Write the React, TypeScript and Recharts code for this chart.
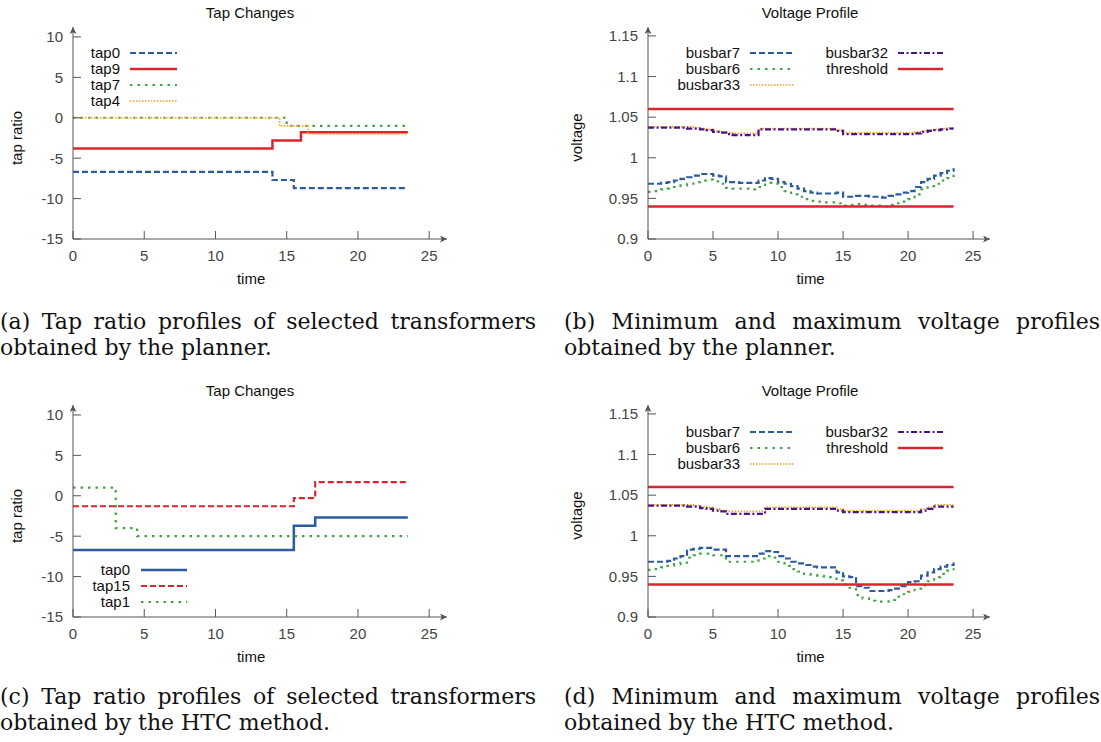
import { LineChart, Line, XAxis, YAxis, Legend, Label } from 'recharts'

const SANS = '"Liberation Sans", Arial, Helvetica, sans-serif'
const SERIF = '"DejaVu Serif", serif'
const AXIS = '#555'

const BLUE = '#2b5c9e'
const RED = '#d7262f'
const GREEN = '#45a145'
const ORANGE = '#f4a11c'
const PURPLE = '#4a1488'

const DASHED = '6 3'
const DOTTED = '2.5 5'
const FINE_DOT = '1.5 1.5'
const DASH_DOT = '6 2.5 2 2.5'

// tap positions, planner (a)
const planTap0Time = [0, 14, 15.5, 23.5]
const planTap0 = [-6.7, -7.7, -8.7, -8.7]
const planTap9Time = [0, 14, 16, 23.5]
const planTap9 = [-3.8, -2.8, -1.8, -1.8]
const planTap7Time = [0, 15, 23.5]
const planTap7 = [0, -1, -1]
const planTap4Time = [0, 14.5, 16.5, 23.5]
const planTap4 = [0, -1, -2, -2]

// tap positions, HTC (c)
const htcTap0Time = [0, 15.5, 17, 23.5]
const htcTap0 = [-6.7, -3.7, -2.7, -2.7]
const htcTap15Time = [0, 15.5, 17, 23.5]
const htcTap15 = [-1.3, -0.3, 1.7, 1.7]
const htcTap1Time = [0, 3, 4.5, 23.5]
const htcTap1 = [1, -4, -5, -5]

// half-hourly voltages
const hours = [
  0, 0.5, 1, 1.5, 2, 2.5, 3, 3.5, 4, 4.5, 5, 5.5, 6, 6.5, 7, 7.5, 8, 8.5, 9, 9.5, 10, 10.5, 11, 11.5,
  12, 12.5, 13, 13.5, 14, 14.5, 15, 15.5, 16, 16.5, 17, 17.5, 18, 18.5, 19, 19.5, 20, 20.5, 21, 21.5,
  22, 22.5, 23, 23.5,
]

const planBusbar7 = [
  0.968, 0.968, 0.969, 0.97, 0.972, 0.974, 0.976, 0.978, 0.98, 0.98,
  0.978, 0.977, 0.97, 0.97, 0.969, 0.969, 0.969, 0.972, 0.975, 0.974,
  0.97, 0.968, 0.965, 0.962, 0.959, 0.957, 0.956, 0.956, 0.956, 0.957,
  0.952, 0.952, 0.953, 0.953, 0.952, 0.952, 0.951, 0.953, 0.955, 0.957,
  0.959, 0.964, 0.97, 0.974, 0.978, 0.981, 0.984, 0.987,
]
const planBusbar6 = [
  0.958, 0.959, 0.961, 0.962, 0.964, 0.966, 0.968, 0.97, 0.972, 0.973,
  0.971, 0.968, 0.963, 0.962, 0.962, 0.962, 0.961, 0.964, 0.969, 0.968,
  0.964, 0.959, 0.955, 0.952, 0.949, 0.947, 0.946, 0.945, 0.945, 0.944,
  0.941, 0.942, 0.943, 0.942, 0.941, 0.941, 0.94, 0.942, 0.944, 0.946,
  0.949, 0.955, 0.961, 0.965, 0.968, 0.972, 0.975, 0.979,
]
const planBusbar33 = [
  1.038, 1.038, 1.038, 1.038, 1.038, 1.038, 1.038, 1.037, 1.036, 1.035,
  1.033, 1.032, 1.031, 1.03, 1.03, 1.03, 1.03, 1.036, 1.036, 1.036,
  1.036, 1.036, 1.036, 1.036, 1.036, 1.036, 1.036, 1.036, 1.036, 1.034,
  1.031, 1.031, 1.031, 1.031, 1.031, 1.031, 1.031, 1.031, 1.031, 1.031,
  1.031, 1.032, 1.033, 1.034, 1.035, 1.036, 1.037, 1.038,
]
const planBusbar32 = [
  1.037, 1.037, 1.037, 1.037, 1.037, 1.037, 1.036, 1.036, 1.035, 1.034,
  1.032, 1.031, 1.029, 1.028, 1.028, 1.028, 1.028, 1.035, 1.035, 1.035,
  1.035, 1.035, 1.035, 1.035, 1.035, 1.035, 1.035, 1.035, 1.035, 1.033,
  1.029, 1.029, 1.029, 1.029, 1.029, 1.029, 1.029, 1.029, 1.029, 1.029,
  1.029, 1.03, 1.032, 1.033, 1.034, 1.035, 1.036, 1.036,
]

const htcBusbar7 = [
  0.968, 0.968, 0.968, 0.969, 0.972, 0.975, 0.983, 0.984, 0.985, 0.985,
  0.983, 0.983, 0.975, 0.975, 0.975, 0.975, 0.975, 0.978, 0.981, 0.98,
  0.975, 0.972, 0.968, 0.966, 0.964, 0.962, 0.961, 0.961, 0.961, 0.955,
  0.95, 0.949, 0.938, 0.936, 0.932, 0.932, 0.932, 0.933, 0.935, 0.938,
  0.943, 0.944, 0.951, 0.955, 0.959, 0.962, 0.964, 0.967,
]
const htcBusbar6 = [
  0.958, 0.959, 0.961, 0.963, 0.965, 0.967, 0.973, 0.976, 0.978, 0.978,
  0.976, 0.976, 0.968, 0.968, 0.968, 0.968, 0.968, 0.972, 0.975, 0.973,
  0.968, 0.963, 0.959, 0.956, 0.953, 0.952, 0.951, 0.95, 0.949, 0.945,
  0.94, 0.936, 0.927, 0.923, 0.92, 0.919, 0.919, 0.921, 0.925, 0.928,
  0.931, 0.935, 0.939, 0.944, 0.949, 0.953, 0.957, 0.96,
]
const htcBusbar33 = [
  1.038, 1.038, 1.038, 1.038, 1.038, 1.038, 1.038, 1.037, 1.036, 1.035,
  1.033, 1.031, 1.03, 1.03, 1.03, 1.03, 1.03, 1.03, 1.035, 1.035,
  1.035, 1.035, 1.035, 1.035, 1.035, 1.035, 1.035, 1.035, 1.035, 1.033,
  1.031, 1.031, 1.031, 1.031, 1.031, 1.031, 1.031, 1.031, 1.031, 1.031,
  1.031, 1.031, 1.033, 1.035, 1.038, 1.038, 1.038, 1.038,
]
const htcBusbar32 = [
  1.037, 1.037, 1.037, 1.037, 1.037, 1.037, 1.036, 1.036, 1.034, 1.033,
  1.031, 1.03, 1.027, 1.027, 1.027, 1.027, 1.027, 1.027, 1.033, 1.033,
  1.033, 1.033, 1.033, 1.033, 1.033, 1.033, 1.033, 1.033, 1.033, 1.031,
  1.029, 1.029, 1.029, 1.029, 1.029, 1.029, 1.029, 1.029, 1.029, 1.029,
  1.029, 1.029, 1.031, 1.033, 1.036, 1.036, 1.036, 1.036,
]

const limitTime = [0, 23.5]
const upperLimit = [1.06, 1.06]
const lowerLimit = [0.94, 0.94]

const timeTicks = [0, 5, 10, 15, 20, 25]
const tapTicks = [-15, -10, -5, 0, 5, 10]
const voltTicks = [0.9, 0.95, 1, 1.05, 1.1, 1.15]

type Pt = { t: number; v: number }
const pts = (times: number[], values: number[]): Pt[] => times.map((t, i) => ({ t, v: values[i] }))

const voltRows = (b7: number[], b6: number[], b33: number[], b32: number[]) =>
  hours.map((t, i) => ({ t, b7: b7[i], b6: b6[i], b33: b33[i], b32: b32[i] }))

type Series = {
  name: string
  dataKey: string
  data?: Pt[]
  color: string
  width: number
  dash?: string
}

type KeyCol = { textRight: number; sampleX: number; sampleLen: number; items: Series[] }

function Key({ cols }: { cols: KeyCol[] }) {
  return (
    <div style={{ position: 'relative', width: 420, height: 70, fontSize: 15, color: '#111' }}>
      {cols.map((col, ci) =>
        col.items.map((s, i) => (
          <div key={`${ci}-${i}`}>
            <div
              style={{
                position: 'absolute',
                left: col.textRight - 120,
                width: 120,
                top: i * 16,
                lineHeight: '16px',
                textAlign: 'right',
              }}
            >
              {s.name}
            </div>
            <svg
              width={col.sampleLen}
              height={16}
              style={{ position: 'absolute', left: col.sampleX, top: i * 16 }}
            >
              <line x1={0} y1={8} x2={col.sampleLen} y2={8} stroke={s.color} strokeWidth={s.width} strokeDasharray={s.dash} />
            </svg>
          </div>
        )),
      )}
    </div>
  )
}

type PanelProps = {
  id: string
  left: number
  top: number
  width: number
  marginRight: number
  yWidth: number
  xMax: number
  yDomain: [number, number]
  yTicks: number[]
  yLabel: string
  title: string
  data?: object[]
  lines: Series[]
  keyCols: KeyCol[]
  keyTop: number
}

function Panel(p: PanelProps) {
  const arrow = `url(#${p.id}-arrow)`
  return (
    <div style={{ position: 'absolute', left: p.left, top: p.top, width: p.width, height: 300, fontFamily: SANS }}>
      <div style={{ position: 'absolute', left: 150, top: 4, width: 200, textAlign: 'center', fontSize: 15, lineHeight: '18px', color: '#111' }}>
        {p.title}
      </div>
      <LineChart width={p.width} height={300} data={p.data} margin={{ top: 27, right: p.marginRight, bottom: 0, left: 0 }}>
        <defs>
          <marker id={`${p.id}-arrow`} viewBox="0 0 10 10" refX={10} refY={5} markerWidth={10} markerHeight={7} markerUnits="userSpaceOnUse" orient="auto-start-reverse">
            <path d="M0,0 L10,5 L0,10 L2.5,5 z" fill={AXIS} />
          </marker>
        </defs>
        <XAxis
          type="number"
          dataKey="t"
          domain={[0, p.xMax]}
          allowDataOverflow
          ticks={timeTicks}
          interval={0}
          height={61}
          tickSize={-8}
          tickMargin={19}
          axisLine={{ stroke: AXIS, markerEnd: arrow }}
          tickLine={{ stroke: AXIS }}
          tick={{ fill: '#444', fontSize: 15 }}
        >
          <Label
            content={(props: any) => {
              const vb = props.viewBox
              const cx = vb.x + (vb.width * 25) / p.xMax / 2
              return (
                <text x={cx} y={vb.y + 45} textAnchor="middle" fontSize={15} fill="#111">
                  time
                </text>
              )
            }}
          />
        </XAxis>
        <YAxis
          type="number"
          domain={p.yDomain}
          allowDataOverflow
          ticks={p.yTicks}
          interval={0}
          width={p.yWidth}
          tickSize={-8}
          tickMargin={18}
          axisLine={{ stroke: AXIS, markerStart: arrow }}
          tickLine={{ stroke: AXIS }}
          tick={{ fill: '#444', fontSize: 15 }}
        >
          <Label
            content={(props: any) => {
              const vb = props.viewBox
              const span = p.yDomain[1] - p.yDomain[0]
              const lo = p.yTicks[0]
              const hi = p.yTicks[p.yTicks.length - 1]
              const cy = vb.y + (vb.height * (p.yDomain[1] - (lo + hi) / 2)) / span
              return (
                <text x={22} y={cy} transform={`rotate(-90, 22, ${cy})`} textAnchor="middle" fontSize={15} fill="#111">
                  {p.yLabel}
                </text>
              )
            }}
          />
        </YAxis>
        <Legend
          layout="horizontal"
          verticalAlign="middle"
          align="center"
          wrapperStyle={{ left: 0, top: p.keyTop, width: 420, height: 70, margin: 0 }}
          content={() => <Key cols={p.keyCols} />}
        />
        {p.lines.map((s, i) => (
          <Line
            key={`${s.name}-${i}`}
            data={s.data}
            dataKey={s.dataKey}
            type="stepAfter"
            stroke={s.color}
            strokeWidth={s.width}
            strokeDasharray={s.dash}
            dot={false}
            activeDot={false}
            legendType="none"
            isAnimationActive={false}
          />
        ))}
      </LineChart>
    </div>
  )
}

function Caption({ left, top, first, second }: { left: number; top: number; first: string; second: string }) {
  return (
    <div style={{ position: 'absolute', left, top, width: 536, fontFamily: SERIF, fontSize: 22, lineHeight: '26px', color: '#111' }}>
      <div style={{ textAlign: 'justify', textAlignLast: 'justify' }}>{first}</div>
      <div>{second}</div>
    </div>
  )
}

// (a)
const aTap0: Series = { name: 'tap0', dataKey: 'v', data: pts(planTap0Time, planTap0), color: BLUE, width: 2.2, dash: DASHED }
const aTap9: Series = { name: 'tap9', dataKey: 'v', data: pts(planTap9Time, planTap9), color: RED, width: 2.5 }
const aTap7: Series = { name: 'tap7', dataKey: 'v', data: pts(planTap7Time, planTap7), color: GREEN, width: 2.2, dash: DOTTED }
const aTap4: Series = { name: 'tap4', dataKey: 'v', data: pts(planTap4Time, planTap4), color: ORANGE, width: 1.6, dash: FINE_DOT }

// (c)
const cTap0: Series = { name: 'tap0', dataKey: 'v', data: pts(htcTap0Time, htcTap0), color: BLUE, width: 2.5 }
const cTap15: Series = { name: 'tap15', dataKey: 'v', data: pts(htcTap15Time, htcTap15), color: RED, width: 2.2, dash: DASHED }
const cTap1: Series = { name: 'tap1', dataKey: 'v', data: pts(htcTap1Time, htcTap1), color: GREEN, width: 2.2, dash: DOTTED }

// voltage series (shared styles)
const vB7: Series = { name: 'busbar7', dataKey: 'b7', color: BLUE, width: 2.2, dash: DASHED }
const vB6: Series = { name: 'busbar6', dataKey: 'b6', color: GREEN, width: 2.2, dash: DOTTED }
const vB33: Series = { name: 'busbar33', dataKey: 'b33', color: ORANGE, width: 1.6, dash: FINE_DOT }
const vB32: Series = { name: 'busbar32', dataKey: 'b32', color: PURPLE, width: 2.2, dash: DASH_DOT }
const vHigh: Series = { name: 'threshold', dataKey: 'v', data: pts(limitTime, upperLimit), color: RED, width: 2.5 }
const vLow: Series = { name: 'threshold', dataKey: 'v', data: pts(limitTime, lowerLimit), color: RED, width: 2.5 }

const voltKey: KeyCol[] = [
  { textRight: 180, sampleX: 190, sampleLen: 45, items: [vB7, vB6, vB33] },
  { textRight: 328, sampleX: 338, sampleLen: 45, items: [vB32, vHigh] },
]

export default function App() {
  return (
    <div style={{ position: 'absolute', left: 0, top: 0, width: 1101, height: 742, background: '#fff' }}>
      <Panel
        id="pa"
        left={0}
        top={0}
        width={450}
        marginRight={3}
        yWidth={73}
        xMax={26.25}
        yDomain={[-15, 11.23]}
        yTicks={tapTicks}
        yLabel="tap ratio"
        title="Tap Changes"
        lines={[aTap0, aTap9, aTap7, aTap4]}
        keyCols={[{ textRight: 120, sampleX: 130, sampleLen: 47, items: [aTap0, aTap9, aTap7, aTap4] }]}
        keyTop={45}
      />
      <Panel
        id="pb"
        left={560}
        top={0}
        width={541}
        marginRight={111}
        yWidth={88}
        xMax={26.3}
        yDomain={[0.9, 1.161]}
        yTicks={voltTicks}
        yLabel="voltage"
        title="Voltage Profile"
        data={voltRows(planBusbar7, planBusbar6, planBusbar33, planBusbar32)}
        lines={[vB7, vB6, vB33, vB32, vHigh, vLow]}
        keyCols={voltKey}
        keyTop={45}
      />
      <Panel
        id="pc"
        left={0}
        top={378}
        width={450}
        marginRight={3}
        yWidth={73}
        xMax={26.25}
        yDomain={[-15, 11.23]}
        yTicks={tapTicks}
        yLabel="tap ratio"
        title="Tap Changes"
        lines={[cTap0, cTap15, cTap1]}
        keyCols={[{ textRight: 130, sampleX: 141, sampleLen: 46, items: [cTap0, cTap15, cTap1] }]}
        keyTop={184}
      />
      <Panel
        id="pd"
        left={560}
        top={378}
        width={541}
        marginRight={111}
        yWidth={88}
        xMax={26.3}
        yDomain={[0.9, 1.161]}
        yTicks={voltTicks}
        yLabel="voltage"
        title="Voltage Profile"
        data={voltRows(htcBusbar7, htcBusbar6, htcBusbar33, htcBusbar32)}
        lines={[vB7, vB6, vB33, vB32, vHigh, vLow]}
        keyCols={voltKey}
        keyTop={46}
      />
      <Caption left={0} top={309} first="(a) Tap ratio profiles of selected transformers" second="obtained by the planner." />
      <Caption left={564} top={309} first="(b) Minimum and maximum voltage profiles" second="obtained by the planner." />
      <Caption left={0} top={684} first="(c) Tap ratio profiles of selected transformers" second="obtained by the HTC method." />
      <Caption left={564} top={684} first="(d) Minimum and maximum voltage profiles" second="obtained by the HTC method." />
    </div>
  )
}
